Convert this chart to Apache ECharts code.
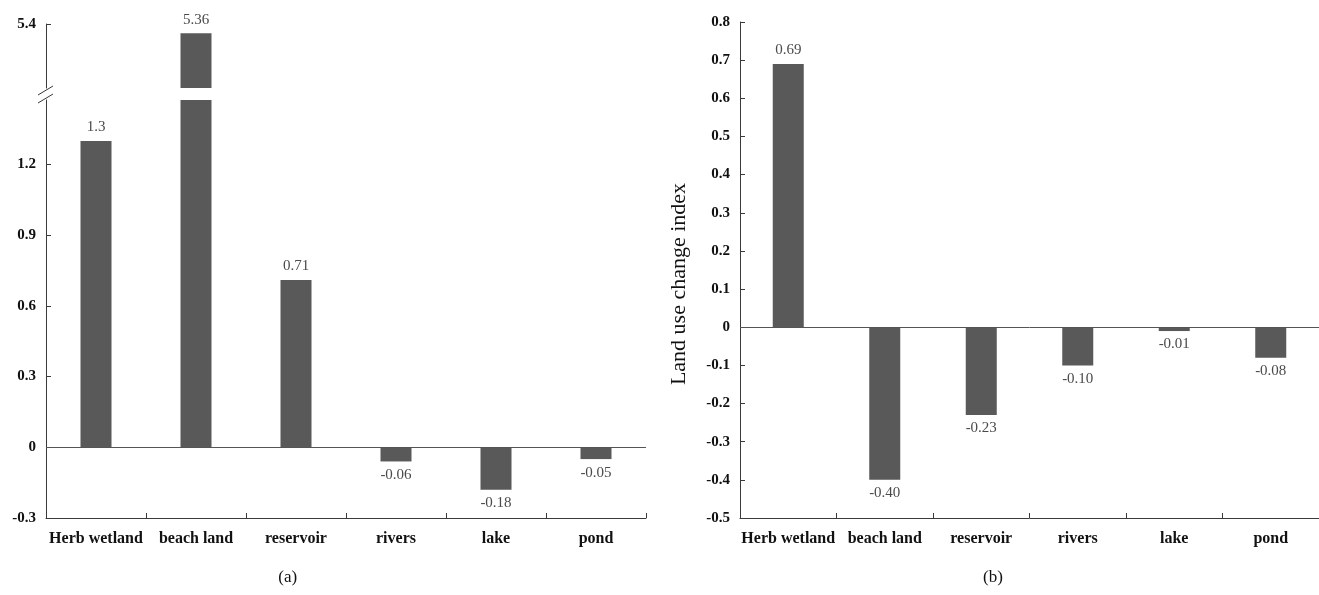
<!DOCTYPE html>
<html><head><meta charset="utf-8">
<script src="https://cdn.jsdelivr.net/npm/echarts@6/dist/echarts.min.js"></script>
<style>html,body{margin:0;padding:0;background:#fff}#c{width:1319px;height:595px}</style>
</head><body><div id="c"></div>
<script>
// ---- data ----
const categories = ['Herb wetland', 'beach land', 'reservoir', 'rivers', 'lake', 'pond'];
const valuesA = [1.3, 5.36, 0.71, -0.06, -0.18, -0.05];
const valuesB = [0.69, -0.40, -0.23, -0.10, -0.01, -0.08];
const ticksALower = [-0.3, 0, 0.3, 0.6, 0.9, 1.2];
const ticksAUpper = [5.4];
const ticksB = [-0.5, -0.4, -0.3, -0.2, -0.1, 0, 0.1, 0.2, 0.3, 0.4, 0.5, 0.6, 0.7, 0.8];
const axisNameB = 'Land use change index';
const captions = ['(a)', '(b)'];
// axis break ranges for panel (a)
const upperRange = [5.12, 5.4];
const lowerRange = [-0.3, 1.474];

// ---- style ----
const SERIF = '"Liberation Serif", "Times New Roman", serif';
const BAR = '#595959';
const AX = '#3a3a3a';
const tickLabel = {fontFamily: SERIF, fontWeight: 'bold', fontSize: 15, color: '#111'};
const catLabel = {fontFamily: SERIF, fontWeight: 'bold', fontSize: 16, color: '#111'};
const dataLabelStyle = {fontFamily: SERIF, fontSize: 15, color: '#4a4a4a'};

function xAxisFor(gridIndex, show) {
  return {
    type: 'category', gridIndex, data: categories, show,
    position: 'bottom',
    axisLine: {onZero: false, lineStyle: {color: AX, width: 1}},
    axisTick: {show: true, inside: true, length: 5, alignWithLabel: false, lineStyle: {color: AX}},
    axisLabel: Object.assign({margin: 13, interval: 0}, catLabel),
    splitLine: {show: false}
  };
}
function fmt(v) { return String(Math.round(v * 10) / 10); }
function yAxisFor(gridIndex, range, ticks, interval, extra) {
  return Object.assign({
    type: 'value', gridIndex, min: range[0], max: range[1], interval,
    axisLine: {show: true, lineStyle: {color: AX, width: 1}},
    axisTick: {show: true, inside: true, length: 5, lineStyle: {color: AX}, customValues: ticks},
    axisLabel: Object.assign({margin: 10, customValues: ticks,
      formatter: v => ticks.some(t => Math.abs(t - v) < 1e-6) ? fmt(v) : ''}, tickLabel),
    splitLine: {show: false}
  }, extra || {});
}
function barItem(v, show, text) {
  return {
    value: v,
    label: {show, position: v >= 0 ? 'top' : 'bottom', distance: 6, formatter: text}
  };
}
const zeroLine = {
  silent: true, symbol: 'none', label: {show: false},
  lineStyle: {color: '#555', type: 'solid', width: 1},
  emphasis: {disabled: true},
  data: [{yAxis: 0}]
};

const chart = echarts.init(document.getElementById('c'), null, {renderer: 'canvas'});
chart.setOption({
  animation: false,
  backgroundColor: '#fff',
  grid: [
    {left: 46, top: 24, width: 600, height: 64},   // (a) upper segment
    {left: 46, top: 100, width: 600, height: 418}, // (a) lower segment
    {left: 740, top: 22, width: 584, height: 496}  // (b)
  ],
  xAxis: [xAxisFor(0, false), xAxisFor(1, true), xAxisFor(2, true)],
  yAxis: [
    yAxisFor(0, upperRange, ticksAUpper, upperRange[1] - upperRange[0]),
    yAxisFor(1, lowerRange, ticksALower, 0.3),
    yAxisFor(2, [-0.5, 0.8], ticksB, 0.1, {
      name: axisNameB, nameLocation: 'middle', nameGap: 50, nameRotate: 90,
      nameTextStyle: {fontFamily: SERIF, fontSize: 22, color: '#111', padding: [0, 28, 0, 0]}
    })
  ],
  series: [
    {
      type: 'bar', xAxisIndex: 0, yAxisIndex: 0, barWidth: 31, clip: true,
      itemStyle: {color: BAR}, label: dataLabelStyle,
      data: valuesA.map(v => v > upperRange[0] ? barItem(v, true, String(v)) : '-')
    },
    {
      type: 'bar', xAxisIndex: 1, yAxisIndex: 1, barWidth: 31, clip: true,
      itemStyle: {color: BAR}, label: dataLabelStyle,
      data: valuesA.map(v => barItem(v, v <= lowerRange[1], String(v))),
      markLine: zeroLine
    },
    {
      type: 'bar', xAxisIndex: 2, yAxisIndex: 2, barWidth: 31, clip: true,
      itemStyle: {color: BAR}, label: dataLabelStyle,
      data: valuesB.map(v => barItem(v, true, v.toFixed(2))),
      markLine: zeroLine
    }
  ]
});

// break marks and captions, positioned from the grids
const gm = chart.getModel();
const rU = gm.getComponent('grid', 0).coordinateSystem.getRect();
const rL = gm.getComponent('grid', 1).coordinateSystem.getRect();
const rB = gm.getComponent('grid', 2).coordinateSystem.getRect();
const ax = rU.x, yU = rU.y + rU.height, yL = rL.y;
const g = [];
g.push({type: 'line', silent: true, shape: {x1: ax - 8, y1: yU + 7, x2: ax + 7, y2: yU - 2}, style: {stroke: AX, lineWidth: 1}});
g.push({type: 'line', silent: true, shape: {x1: ax - 8, y1: yL + 3, x2: ax + 7, y2: yL - 6}, style: {stroke: AX, lineWidth: 1}});
g.push({type: 'text', silent: true, x: rL.x + rL.width * 0.403, y: 578,
  style: {text: captions[0], font: '17px ' + SERIF, fill: '#111', textAlign: 'center', textVerticalAlign: 'middle'}});
g.push({type: 'text', silent: true, x: rB.x + 253, y: 578,
  style: {text: captions[1], font: '17px ' + SERIF, fill: '#111', textAlign: 'center', textVerticalAlign: 'middle'}});
chart.setOption({graphic: g});
</script>
</body></html>
